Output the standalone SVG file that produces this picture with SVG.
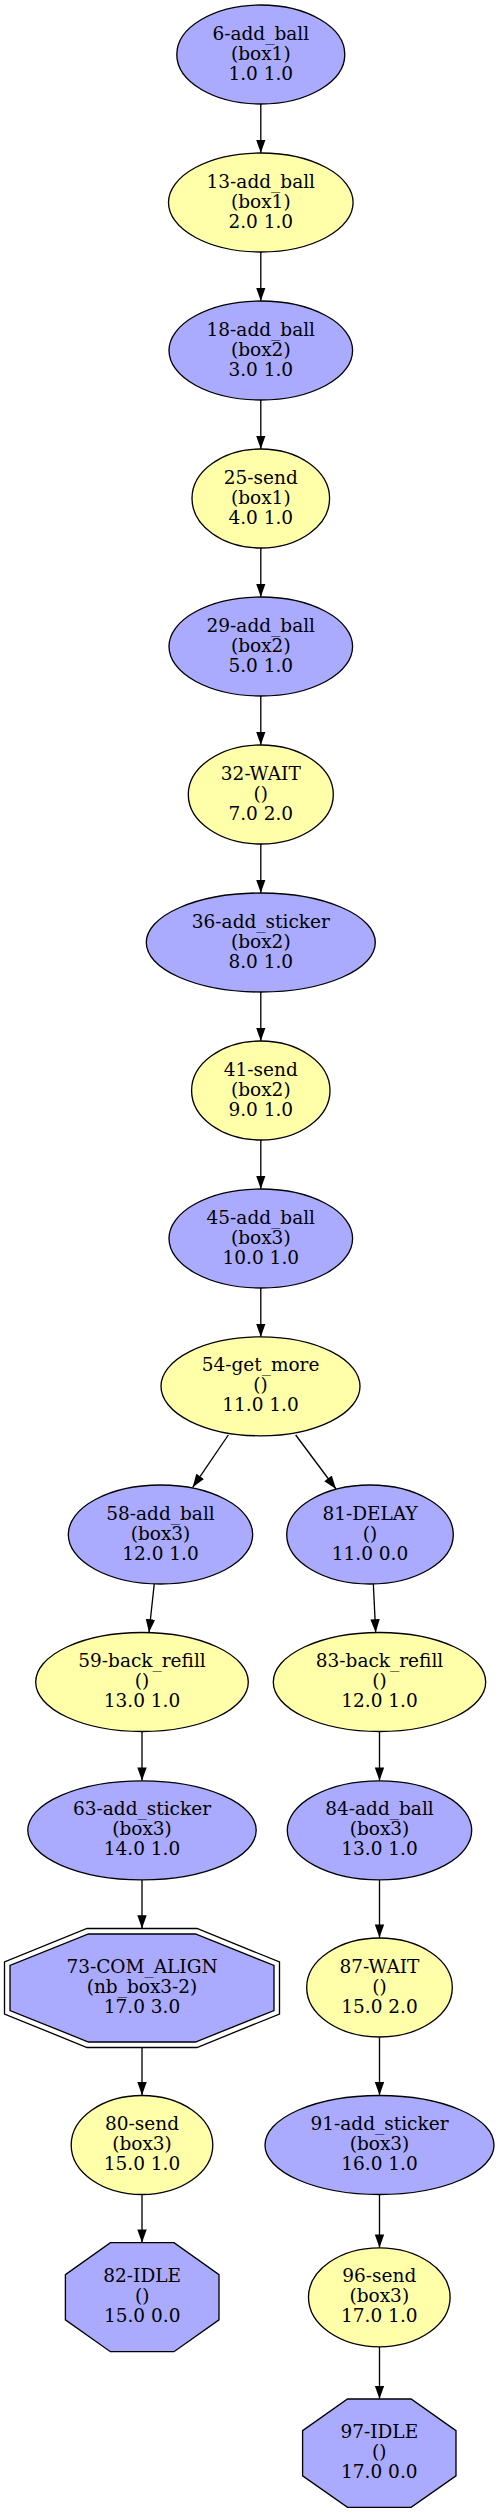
<svg xmlns="http://www.w3.org/2000/svg" width="499" height="2513" viewBox="0 0 499 2513">
<style>
.b{fill:#aaaaff;stroke:#000;stroke-width:1.33}
.y{fill:#ffffaa;stroke:#000;stroke-width:1.33}
.o{fill:none;stroke:#000;stroke-width:1.33}
text{font-family:"DejaVu Serif","Liberation Serif",serif;font-size:18.5px;text-anchor:middle;fill:#000}
.e line{stroke:#000;stroke-width:1.33;marker-end:url(#ah)}
</style>
<defs>
<marker id="ah" markerUnits="userSpaceOnUse" markerWidth="14" markerHeight="10" refX="13.3" refY="4.7" orient="auto">
<path d="M0,0 L13.3,4.7 L0,9.4 z" fill="#000"/>
</marker>
</defs>
<rect width="499" height="2513" fill="#fff"/>
<g class="e">
<line x1="260.8" y1="104" x2="260.8" y2="153"/>
<line x1="260.8" y1="252" x2="260.8" y2="301"/>
<line x1="260.8" y1="400" x2="260.8" y2="449"/>
<line x1="260.8" y1="548" x2="260.8" y2="597"/>
<line x1="260.8" y1="696" x2="260.8" y2="745"/>
<line x1="260.8" y1="844" x2="260.8" y2="893"/>
<line x1="260.8" y1="992" x2="260.8" y2="1041"/>
<line x1="260.8" y1="1140" x2="260.8" y2="1189"/>
<line x1="260.8" y1="1288" x2="260.8" y2="1337"/>
<line x1="228.3" y1="1435" x2="192.7" y2="1487.3"/>
<line x1="295.7" y1="1435" x2="336" y2="1489"/>
<line x1="154.3" y1="1583.5" x2="149" y2="1632.5"/>
<line x1="373.3" y1="1583.5" x2="375.7" y2="1632.5"/>
<line x1="142" y1="1731.5" x2="142" y2="1780.7"/>
<line x1="379.5" y1="1731.5" x2="379.5" y2="1780.7"/>
<line x1="142" y1="1880" x2="142" y2="1928.5"/>
<line x1="379.5" y1="1880" x2="379.5" y2="1937.7"/>
<line x1="142" y1="2047.5" x2="142" y2="2095.3"/>
<line x1="379.5" y1="2037.3" x2="379.5" y2="2095.3"/>
<line x1="142" y1="2195" x2="142" y2="2242.7"/>
<line x1="379.5" y1="2195" x2="379.5" y2="2247.7"/>
<line x1="379.5" y1="2347" x2="379.5" y2="2399"/>
</g>
<g id="n6"><ellipse class="b" cx="260.8" cy="54.5" rx="84" ry="49.5"/><text x="260.8" y="39.5">6-add_ball<tspan x="260.8" dy="20">(box1)</tspan><tspan x="260.8" dy="20">1.0 1.0</tspan></text></g>
<g id="n13"><ellipse class="y" cx="260.8" cy="202.5" rx="92.3" ry="49.5"/><text x="260.8" y="187.5">13-add_ball<tspan x="260.8" dy="20">(box1)</tspan><tspan x="260.8" dy="20">2.0 1.0</tspan></text></g>
<g id="n18"><ellipse class="b" cx="260.8" cy="350.5" rx="91.8" ry="49.5"/><text x="260.8" y="335.5">18-add_ball<tspan x="260.8" dy="20">(box2)</tspan><tspan x="260.8" dy="20">3.0 1.0</tspan></text></g>
<g id="n25"><ellipse class="y" cx="260.8" cy="498.5" rx="68.8" ry="49.5"/><text x="260.8" y="483.5">25-send<tspan x="260.8" dy="20">(box1)</tspan><tspan x="260.8" dy="20">4.0 1.0</tspan></text></g>
<g id="n29"><ellipse class="b" cx="260.8" cy="646.5" rx="91.8" ry="49.5"/><text x="260.8" y="631.5">29-add_ball<tspan x="260.8" dy="20">(box2)</tspan><tspan x="260.8" dy="20">5.0 1.0</tspan></text></g>
<g id="n32"><ellipse class="y" cx="260.8" cy="794.5" rx="72.5" ry="49.5"/><text x="260.8" y="779.5">32-WAIT<tspan x="260.8" dy="20">()</tspan><tspan x="260.8" dy="20">7.0 2.0</tspan></text></g>
<g id="n36"><ellipse class="b" cx="260.8" cy="942.5" rx="114.5" ry="49.5"/><text x="260.8" y="927.5">36-add_sticker<tspan x="260.8" dy="20">(box2)</tspan><tspan x="260.8" dy="20">8.0 1.0</tspan></text></g>
<g id="n41"><ellipse class="y" cx="260.8" cy="1090.5" rx="69.2" ry="49.5"/><text x="260.8" y="1075.5">41-send<tspan x="260.8" dy="20">(box2)</tspan><tspan x="260.8" dy="20">9.0 1.0</tspan></text></g>
<g id="n45"><ellipse class="b" cx="260.8" cy="1238.5" rx="91.8" ry="49.5"/><text x="260.8" y="1223.5">45-add_ball<tspan x="260.8" dy="20">(box3)</tspan><tspan x="260.8" dy="20">10.0 1.0</tspan></text></g>
<g id="n54"><ellipse class="y" cx="260.5" cy="1386.3" rx="99.5" ry="49.5"/><text x="260.5" y="1371.3">54-get_more<tspan x="260.5" dy="20">()</tspan><tspan x="260.5" dy="20">11.0 1.0</tspan></text></g>
<g id="n58"><ellipse class="b" cx="160.5" cy="1534.5" rx="92.2" ry="49.5"/><text x="160.5" y="1519.5">58-add_ball<tspan x="160.5" dy="20">(box3)</tspan><tspan x="160.5" dy="20">12.0 1.0</tspan></text></g>
<g id="n81"><ellipse class="b" cx="370" cy="1534.5" rx="83.3" ry="49.5"/><text x="370" y="1519.5">81-DELAY<tspan x="370" dy="20">()</tspan><tspan x="370" dy="20">11.0 0.0</tspan></text></g>
<g id="n59"><ellipse class="y" cx="142" cy="1682" rx="106.3" ry="49.5"/><text x="142" y="1667">59-back_refill<tspan x="142" dy="20">()</tspan><tspan x="142" dy="20">13.0 1.0</tspan></text></g>
<g id="n83"><ellipse class="y" cx="379.5" cy="1682" rx="106.2" ry="49.5"/><text x="379.5" y="1667">83-back_refill<tspan x="379.5" dy="20">()</tspan><tspan x="379.5" dy="20">12.0 1.0</tspan></text></g>
<g id="n63"><ellipse class="b" cx="142" cy="1830.3" rx="114.2" ry="49.5"/><text x="142" y="1815.3">63-add_sticker<tspan x="142" dy="20">(box3)</tspan><tspan x="142" dy="20">14.0 1.0</tspan></text></g>
<g id="n84"><ellipse class="b" cx="379.5" cy="1830.3" rx="92.2" ry="49.5"/><text x="379.5" y="1815.3">84-add_ball<tspan x="379.5" dy="20">(box3)</tspan><tspan x="379.5" dy="20">13.0 1.0</tspan></text></g>
<g id="n73"><polygon class="o" points="87,1928.5 197,1928.5 279.5,1962 279.5,2014 197,2047.5 87,2047.5 4.5,2014 4.5,1962"/><polygon class="b" points="88.5,1934 195.5,1934 274,1965.5 274,2010.5 195.5,2042 88.5,2042 10,2010.5 10,1965.5"/><text x="142" y="1973">73-COM_ALIGN<tspan x="142" dy="20">(nb_box3-2)</tspan><tspan x="142" dy="20">17.0 3.0</tspan></text></g>
<g id="n87"><ellipse class="y" cx="379.5" cy="1987.5" rx="72.8" ry="49.5"/><text x="379.5" y="1972.5">87-WAIT<tspan x="379.5" dy="20">()</tspan><tspan x="379.5" dy="20">15.0 2.0</tspan></text></g>
<g id="n80"><ellipse class="y" cx="142" cy="2145" rx="70.8" ry="49.5"/><text x="142" y="2130">80-send<tspan x="142" dy="20">(box3)</tspan><tspan x="142" dy="20">15.0 1.0</tspan></text></g>
<g id="n91"><ellipse class="b" cx="379.5" cy="2145" rx="114.5" ry="49.5"/><text x="379.5" y="2130">91-add_sticker<tspan x="379.5" dy="20">(box3)</tspan><tspan x="379.5" dy="20">16.0 1.0</tspan></text></g>
<g id="n82"><polygon class="b" points="110.4,2242.7 174,2242.7 219,2274.6 219,2319.8 174,2351.7 110.4,2351.7 65.4,2319.8 65.4,2274.6"/><text x="142.2" y="2282.2">82-IDLE<tspan x="142.2" dy="20">()</tspan><tspan x="142.2" dy="20">15.0 0.0</tspan></text></g>
<g id="n96"><ellipse class="y" cx="379.3" cy="2297.3" rx="70.8" ry="49.5"/><text x="379.3" y="2282.3">96-send<tspan x="379.3" dy="20">(box3)</tspan><tspan x="379.3" dy="20">17.0 1.0</tspan></text></g>
<g id="n97"><polygon class="b" points="347.5,2399 411.1,2399 456,2430.6 456,2475.8 411.1,2507.3 347.5,2507.3 302.6,2475.8 302.6,2430.6"/><text x="379.3" y="2438.2">97-IDLE<tspan x="379.3" dy="20">()</tspan><tspan x="379.3" dy="20">17.0 0.0</tspan></text></g>
</svg>
